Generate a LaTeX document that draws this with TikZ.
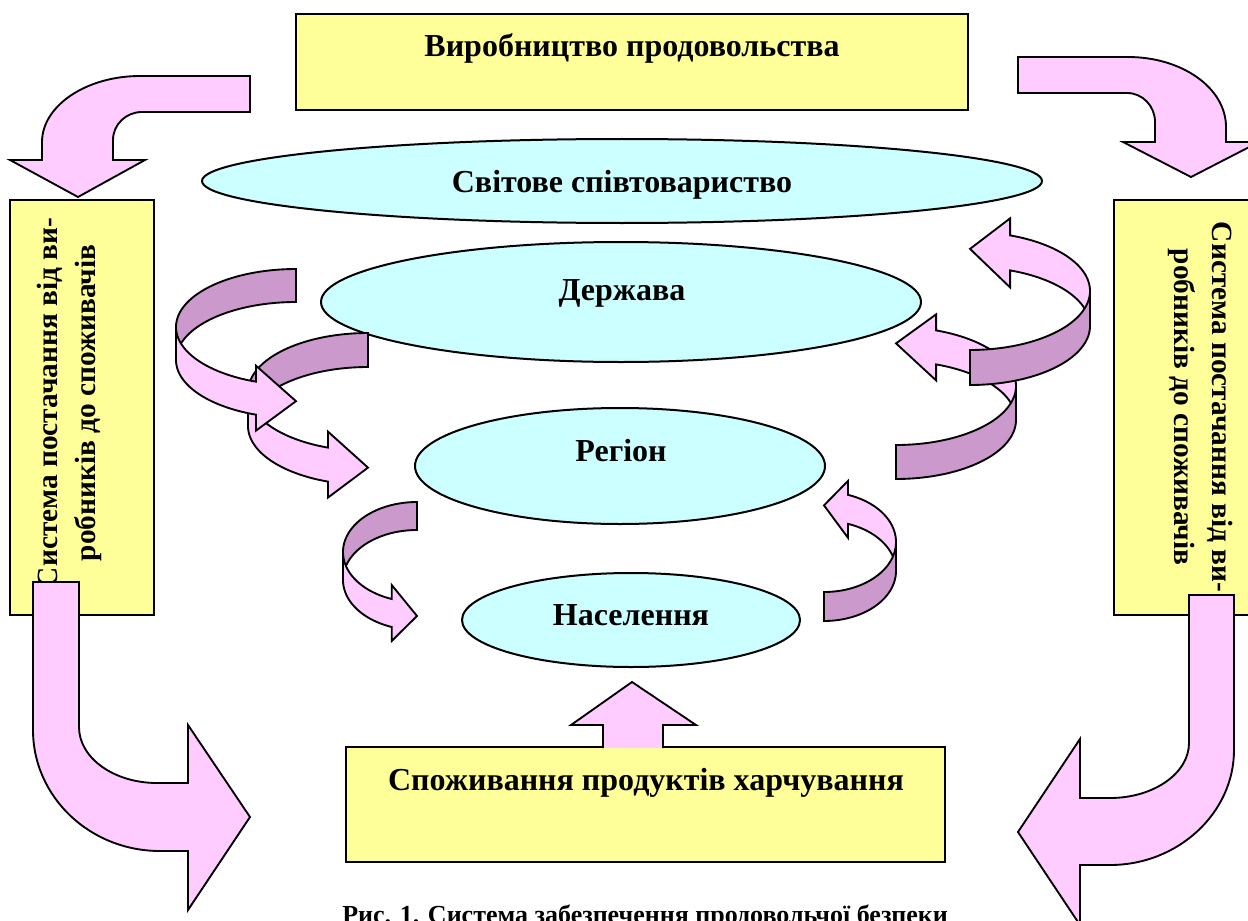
\documentclass[tikz,border=0pt]{standalone}
\usepackage{fontspec}
\setmainfont{Liberation Serif}
\definecolor{yfill}{HTML}{FFFF99}
\definecolor{cfill}{HTML}{CCFFFF}
\definecolor{pfill}{HTML}{FFCCFF}
\definecolor{dfill}{HTML}{CC99CC}
\tikzset{
  ybox/.style={draw=black, line width=1.5pt, fill=yfill},
  ebox/.style={draw=black, line width=1.5pt, fill=cfill},
  parrow/.style={draw=black, line width=1.4pt, fill=pfill, line join=miter},
  front/.style={draw=black, line width=1.4pt, fill=pfill, line join=miter},
  back/.style={draw=black, line width=1.4pt, fill=dfill, line join=miter},
  txt/.style={font=\fontsize{24}{29}\selectfont\bfseries, inner sep=0pt},
  vtxt/.style={font=\fontsize{22}{28.5}\selectfont\bfseries, inner sep=0pt, align=center},
  captxt/.style={font=\fontsize{19.5}{22}\selectfont\bfseries, inner sep=0pt}
}
\newcommand\swirlL[7]{%
  \filldraw[back] plot[domain=-90:-180,samples=40] ({#1+#3*cos(\x)},{#2+#4*sin(\x)})
     -- plot[domain=-180:-90,samples=40] ({#1+#3*cos(\x)},{#2+#5+#4*sin(\x)}) -- cycle;
  \filldraw[front] plot[domain=180:#6,samples=40] ({#1+#3*cos(\x)},{#2+#4*sin(\x)})
     -- ++(0,-#7) -- ({#1},{#2+#4*sin(#6)+#5/2+3})
     -- ({#1+#3*cos(#6)},{#2+#4*sin(#6)+#5+#7}) -- ++(0,-#7)
     -- plot[domain=#6:180,samples=40] ({#1+#3*cos(\x)},{#2+#5+#4*sin(\x)}) -- cycle;
}
\newcommand\swirlR[7]{%
  \filldraw[front] ({#1+#3*cos(#6)},{#2+#4*sin(#6)-#7})
     -- ({#1},{#2+#4*sin(#6)+#5/2-4})
     -- ({#1+#3*cos(#6)},{#2+#4*sin(#6)+#5+#7}) -- ++(0,-#7)
     -- plot[domain=#6:0,samples=40] ({#1+#3*cos(\x)},{#2+#5+#4*sin(\x)})
     -- plot[domain=0:#6,samples=40] ({#1+#3*cos(\x)},{#2+#4*sin(\x)}) -- cycle;
  \filldraw[back] plot[domain=0:90,samples=40] ({#1+#3*cos(\x)},{#2+#4*sin(\x)})
     -- plot[domain=90:0,samples=40] ({#1+#3*cos(\x)},{#2+#5+#4*sin(\x)}) -- cycle;
}
\begin{document}
\begin{tikzpicture}[x=0.75pt,y=-0.75pt]
\useasboundingbox (0,0) rectangle (1248,920);
% boxes
\draw[ybox] (296,14) rectangle (968,110);
\node[txt, anchor=base] (prod) at (632,57) {Виробництво продовольства};
\draw[ybox] (10,200) rectangle (154,615);
\node[vtxt, rotate=90] (lsys) at (69,403) {Система постачання від ви-\\робників до споживачів};
\draw[ybox] (1114,200) rectangle (1262,615);
\node[vtxt, rotate=-90] (rsys) at (1201,407) {Система постачання від ви-\\робників до споживачів};
\draw[ybox] (346,747) rectangle (945,862);
\node[txt, anchor=base] (cons) at (646,790) {Споживання продуктів харчування};
% ellipses
\draw[ebox] (622,181) ellipse [x radius=420, y radius=42];
\node[txt, anchor=base] (world) at (622,192) {Світове співтовариство};
\draw[ebox] (621,302) ellipse [x radius=300, y radius=60];
\node[txt, anchor=base] (state) at (622,300) {Держава};
\draw[ebox] (620,466) ellipse [x radius=205, y radius=58];
\node[txt, anchor=base] (reg) at (621,461) {Регіон};
\draw[ebox] (631,620) ellipse [x radius=169, y radius=47];
\node[txt, anchor=base] (pop) at (631,625) {Населення};
% corner arrows
\filldraw[parrow] (250,76) -- (140,76) .. controls (86,76) and (42,106) .. (42,142) -- (42,160) -- (10,160) -- (78,197) -- (145,160) -- (113,160) -- (113,140) .. controls (113,124.5) and (126,112) .. (142,112) -- (250,112) -- cycle;
\filldraw[parrow] (1018,57) -- (1128,57) .. controls (1182,57) and (1226,88) .. (1226,127) -- (1226,142) -- (1259,142) -- (1191,177) -- (1123,142) -- (1155,142) -- (1155,122) .. controls (1155,106) and (1142.5,93) .. (1127,93) -- (1018,93) -- cycle;
\filldraw[parrow] (33,582) -- (33,730) .. controls (33,797) and (90,851) .. (160,851) -- (188,851) -- (188,910) -- (250,817) -- (188,725) -- (188,783) -- (157,783) .. controls (114,783) and (79,758) .. (79,727) -- (79,582) -- cycle;
\filldraw[parrow] (1189,595) -- (1189,743) .. controls (1189,773) and (1154,798) .. (1110,798) -- (1080,798) -- (1080,739) -- (1018,832) -- (1080,925) -- (1080,865) -- (1110,865) .. controls (1178,865) and (1234,813) .. (1234,750) -- (1234,595) -- cycle;
% up arrow
\filldraw[parrow] (603,748) -- (603,725) -- (571,725) -- (632,682) -- (696,725) -- (663,725) -- (663,748);
% swirls
\swirlL{368}{392}{120}{59}{34}{109.5}{16}
\swirlL{296}{327}{120}{58}{33}{109.5}{16}
\swirlL{417}{552}{74}{50}{28}{110}{14}
\swirlR{896}{386}{120}{59}{34}{-70.5}{16}
\swirlR{970}{291}{120}{59}{35}{-70.5}{17}
\swirlR{824}{542}{72}{50}{29}{-70.5}{14}
% caption
\node[captxt, anchor=base west] (cap) at (342,923) {Рис. 1. Система забезпечення продовольчої безпеки};
\end{tikzpicture}
\end{document}
